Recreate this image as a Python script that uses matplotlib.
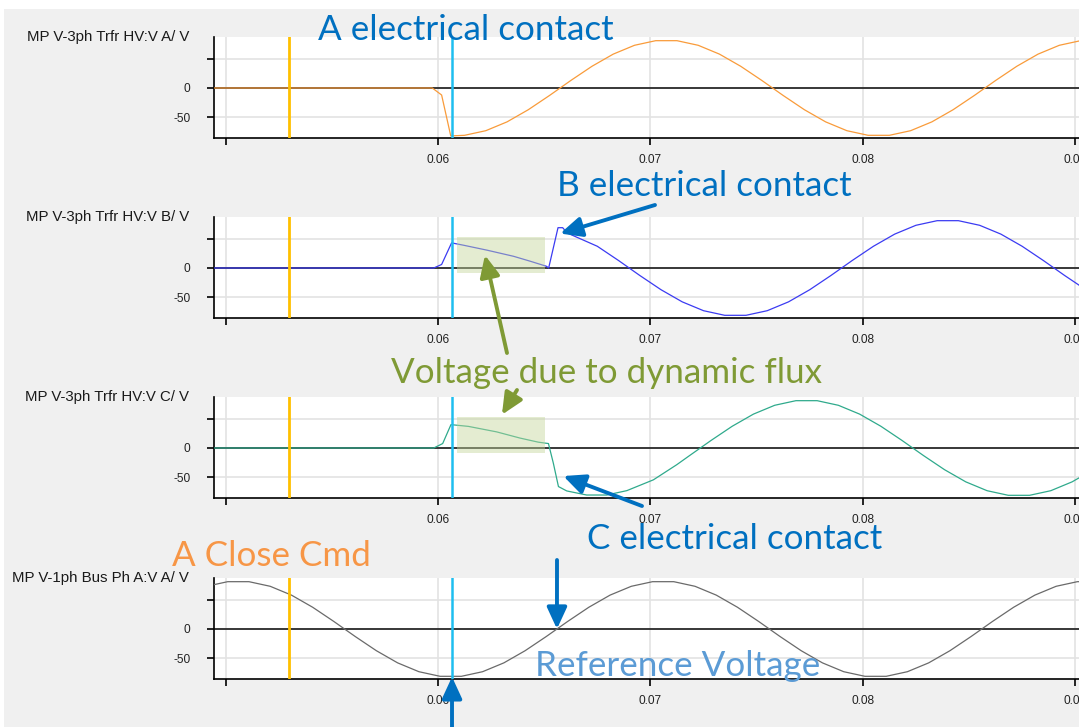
import matplotlib
matplotlib.use("Agg")
import matplotlib.pyplot as plt
from matplotlib.patches import Rectangle

# =============================================================================
# Data (time in s, voltage in V)
# =============================================================================
PANEL_LABELS = [
    "MP V-3ph Trfr HV:V A/ V",
    "MP V-3ph Trfr HV:V B/ V",
    "MP V-3ph Trfr HV:V C/ V",
    "MP V-1ph Bus Ph A:V A/ V",
]

a_time = [0.0494, 0.05973, 0.06017, 0.0606,
          0.06125, 0.06225, 0.06325, 0.06425, 0.06525, 0.06625, 0.06725,
          0.06825, 0.06925, 0.07025, 0.07125, 0.07225, 0.07325, 0.07425,
          0.07525, 0.07625, 0.07725, 0.07825, 0.07925, 0.08025, 0.08125,
          0.08225, 0.08325, 0.08425, 0.08525, 0.08625, 0.08725, 0.08825,
          0.08925, 0.09025, 0.09125]
a_volts = [0, 0, -12, -82,
           -81, -73.1, -58, -37.2, -12.8, 12.8, 37.2,
           58, 73.1, 81, 81, 73.1, 58, 37.2,
           12.8, -12.8, -37.2, -58, -73.1, -81, -81,
           -73.1, -58, -37.2, -12.8, 12.8, 37.2, 58,
           73.1, 81, 81]

b_time = [0.0494, 0.0598, 0.06017, 0.06064, 0.0612, 0.06231, 0.06356,
          0.06435, 0.0651, 0.06521, 0.06565, 0.06587, 0.06608,
          0.0675, 0.0685, 0.0695, 0.0705, 0.0715, 0.0725, 0.0735, 0.0745,
          0.0755, 0.0765, 0.0775, 0.0785, 0.0795, 0.0805, 0.0815, 0.0825,
          0.0835, 0.0845, 0.0855, 0.0865, 0.0875, 0.0885, 0.0895, 0.0905,
          0.0915]
b_volts = [0, 0, 6, 43, 39, 30.5, 20,
           11.5, 3, 0, 69, 69, 60,
           37.2, 12.8, -12.8, -37.2, -58, -73.1, -81, -81,
           -73.1, -58, -37.2, -12.8, 12.8, 37.2, 58, 73.1,
           81, 81, 73.1, 58, 37.2, 12.8, -12.8, -37.2,
           -58]

c_time = [0.0494, 0.0598, 0.06022, 0.06061, 0.06143, 0.06276, 0.06386,
          0.06472, 0.0652, 0.06543, 0.06567, 0.06606, 0.067, 0.06794,
          0.06889, 0.07014, 0.07124,
          0.07185, 0.07285, 0.07385, 0.07485, 0.07585, 0.07685, 0.07785,
          0.07885, 0.07985, 0.08085, 0.08185, 0.08285, 0.08385, 0.08485,
          0.08585, 0.08685, 0.08785, 0.08885, 0.08985, 0.09085]
c_volts = [0, 0, 7.6, 40, 37, 27.6, 17,
           10, 7.6, -26, -66, -73.5, -80.5, -80.5,
           -73, -54.5, -28.6,
           -12.8, 12.8, 37.2, 58, 73.1, 81, 81,
           73.1, 58, 37.2, 12.8, -12.8, -37.2, -58,
           -73.1, -81, -81, -73.1, -58, -37.2]

d_time = [0.0491, 0.0501, 0.0511, 0.0521, 0.0531, 0.0541, 0.0551, 0.0561,
          0.0571, 0.0581, 0.0591, 0.0601, 0.0611, 0.0621, 0.0631, 0.0641,
          0.0651, 0.0661, 0.0671, 0.0681, 0.0691, 0.0701, 0.0711, 0.0721,
          0.0731, 0.0741, 0.0751, 0.0761, 0.0771, 0.0781, 0.0791, 0.0801,
          0.0811, 0.0821, 0.0831, 0.0841, 0.0851, 0.0861, 0.0871, 0.0881,
          0.0891, 0.0901, 0.0911]
d_volts = [73.1, 81, 81, 73.1, 58, 37.2, 12.8, -12.8,
           -37.2, -58, -73.1, -81, -81, -73.1, -58, -37.2,
           -12.8, 12.8, 37.2, 58, 73.1, 81, 81, 73.1,
           58, 37.2, 12.8, -12.8, -37.2, -58, -73.1, -81,
           -81, -73.1, -58, -37.2, -12.8, 12.8, 37.2, 58,
           73.1, 81, 81]

SERIES = [(a_time, a_volts), (b_time, b_volts), (c_time, c_volts), (d_time, d_volts)]
SERIES_COLORS = ["#F99B3A", "#3B3BF2", "#2FAA8C", "#6A6A6A"]

CLOSE_CMD_T = 0.05297      # A close command marker
CONTACT_T = 0.06066        # first electrical contact marker
FLUX_T = (0.06088, 0.06505)
FLUX_V = (-8, 53)

X_TICKS = [0.05, 0.06, 0.07, 0.08, 0.09]
X_TICK_LABELS = ["", "0.06", "0.07", "0.08", "0.09"]
Y_TICKS = [-50, 0, 50]
Y_TICK_LABELS = ["-50", "0", ""]

# =============================================================================
# Layout (pixels of a 1079 x 727 canvas)
# =============================================================================
W, H = 1079, 727
AX_LEFT, AX_RIGHT = 214, 1085
AX_TOPS = [37, 217, 397, 578]
AX_H = 101
XLIM = (0.049454, 0.09046)
YLIM = (-85.6, 87.3)

BLUE = "#0070C0"
GREEN = "#7F9A35"
ANN_FONT = "Lato"
ANN_SIZE = 25.2

fig = plt.figure(figsize=(W / 100, H / 100), dpi=100)
fig.patch.set_facecolor("#F0F0F0")
fig.patches.append(Rectangle((0, 1 - 9 / H), 1, 9 / H, transform=fig.transFigure,
                             facecolor="white", edgecolor="none", zorder=0))
fig.patches.append(Rectangle((0, 0), 4 / W, 1, transform=fig.transFigure,
                             facecolor="white", edgecolor="none", zorder=0))

axes = []
for i, (t, v) in enumerate(SERIES):
    top = AX_TOPS[i]
    ax = fig.add_axes([AX_LEFT / W, 1 - (top + AX_H) / H,
                       (AX_RIGHT - AX_LEFT) / W, AX_H / H])
    ax.set_facecolor("white")
    ax.plot(t, v, color=SERIES_COLORS[i], lw=0.9, zorder=3)
    ax.axhline(0, color="#1A1A1A", lw=1.2, zorder=2)
    ax.axvline(CLOSE_CMD_T, color="#FFC000", lw=2.0, zorder=4)
    ax.axvline(CONTACT_T, color="#1EBEF0", lw=1.8, zorder=4)
    if i in (1, 2):
        ax.add_patch(Rectangle((FLUX_T[0], FLUX_V[0]), FLUX_T[1] - FLUX_T[0],
                               FLUX_V[1] - FLUX_V[0], facecolor="#C4D79B",
                               edgecolor="none", alpha=0.45, zorder=5))

    ax.set_xlim(*XLIM)
    ax.set_ylim(*YLIM)
    ax.set_xticks(X_TICKS)
    ax.set_xticklabels(X_TICK_LABELS)
    ax.set_yticks(Y_TICKS)
    ax.set_yticklabels(Y_TICK_LABELS)
    ax.tick_params(axis="x", length=5, width=1.2, pad=6.5, labelsize=8.6,
                   labelcolor="#222222")
    ax.tick_params(axis="y", length=5, width=1.2, pad=12, labelsize=8.6,
                   labelcolor="#222222")
    for lab in ax.get_xticklabels() + ax.get_yticklabels():
        lab.set_fontfamily("Liberation Sans")
    ax.grid(True, color="#E3E3E3", lw=1.2, zorder=0)
    ax.set_axisbelow(True)
    for side in ("top", "right"):
        ax.spines[side].set_visible(False)
    for side in ("left", "bottom"):
        ax.spines[side].set_linewidth(1.2)
        ax.spines[side].set_color("black")

    fig.text(189 / W, 1 - top / H, PANEL_LABELS[i], ha="right", va="center",
             fontsize=10.8, family="Liberation Sans", color="#1A1A1A")
    axes.append(ax)

# =============================================================================
# Overlay for callouts (pixel coordinates, y downwards)
# =============================================================================
ov = fig.add_axes([0, 0, 1, 1])
ov.set_xlim(0, W)
ov.set_ylim(H, 0)
ov.axis("off")
ov.patch.set_alpha(0)


def callout(text, x, y, color):
    ov.text(x, y, text, ha="left", va="baseline", fontsize=ANN_SIZE,
            family=ANN_FONT, color=color, zorder=10)


def arrow(tip_ax, tip, tail, color):
    ov.annotate("", xy=tip, xycoords=tip_ax.transData,
                xytext=tail, textcoords=ov.transData,
                arrowprops=dict(arrowstyle="-|>,head_length=0.65,head_width=0.3",
                                mutation_scale=20, lw=2.8, color=color,
                                shrinkA=0, shrinkB=0),
                annotation_clip=False, zorder=11)


callout("A electrical contact", 318, 40, BLUE)
callout("B electrical contact", 557, 196, BLUE)
callout("Voltage due to dynamic flux", 391, 383, GREEN)
callout("C electrical contact", 587, 549, BLUE)
callout("A Close Cmd", 172, 566, "#F79646")
callout("Reference Voltage", 535, 676, "#5B9BD5")

arrow(axes[1], (0.06575, 59), (655, 205), BLUE)
arrow(axes[2], (0.0659, -48), (642, 506), BLUE)
arrow(axes[3], (0.0656, 0), (557, 560), BLUE)
arrow(axes[3], (0.06066, -82), (452, 740), BLUE)
arrow(axes[1], (0.06221, 22), (507, 353), GREEN)
arrow(axes[2], (0.06301, 57), (517, 390), GREEN)

fig.savefig("out.png", dpi=100, facecolor=fig.get_facecolor())
